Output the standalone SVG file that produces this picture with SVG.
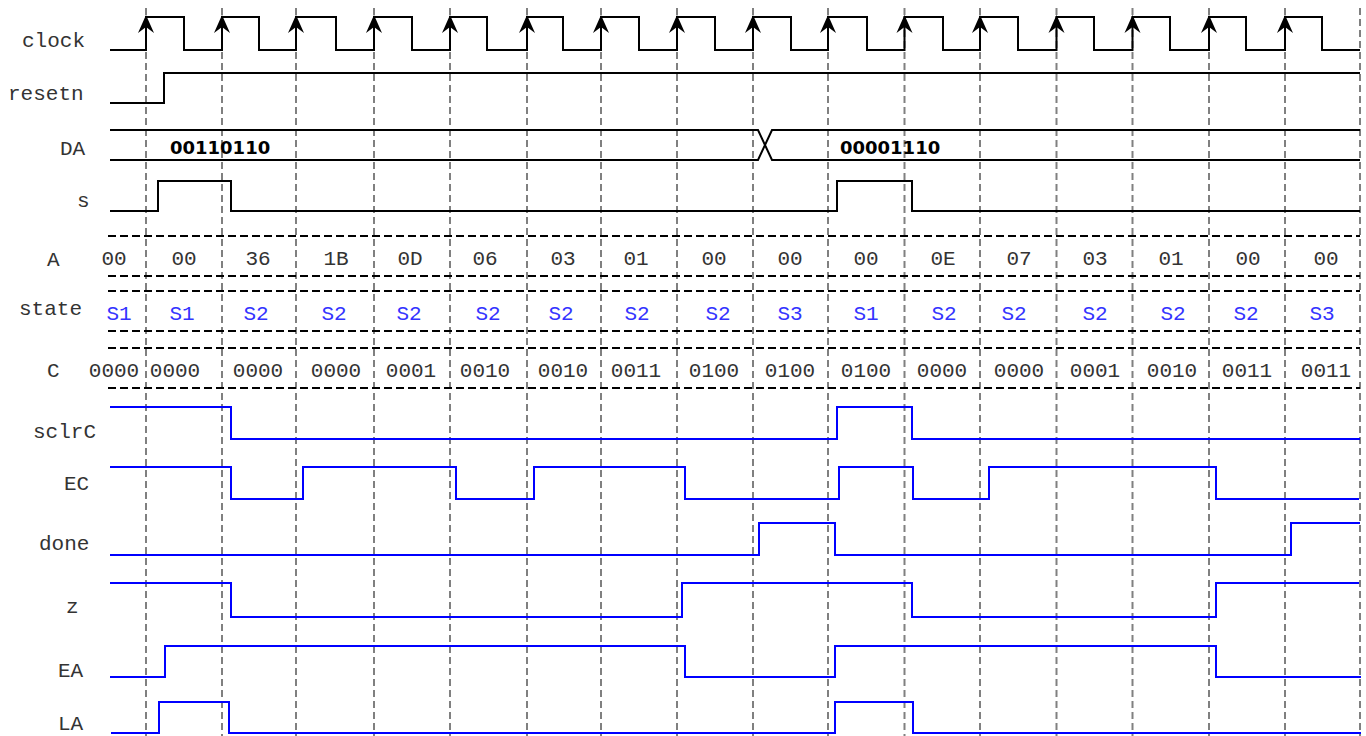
<svg xmlns="http://www.w3.org/2000/svg" width="1366" height="736" viewBox="0 0 1366 736">
<style>
.grid{stroke:#808080;stroke-width:2;stroke-dasharray:7 4;fill:none}
.bus{stroke:#000;stroke-width:2;stroke-dasharray:8 4;fill:none}
.sig{stroke:#000;stroke-width:2;fill:none}
.blue{stroke:#0000ff;stroke-width:2;fill:none}
.lbl{font-family:"Liberation Mono","Courier New",monospace;font-size:21px;fill:#333}
.val{font-family:"Liberation Mono","Courier New",monospace;font-size:21px;fill:#333;text-anchor:middle}
.st{font-family:"Liberation Mono","Courier New",monospace;font-size:21px;fill:#3333ff;text-anchor:middle}
.da{font-family:"DejaVu Sans","Verdana",sans-serif;font-size:18px;font-weight:bold;fill:#000}
</style>
<rect width="1366" height="736" fill="#fff"/>
<g id="guides">
<path class="grid" d="M146,8V736M222,8V736M296,8V736M374,8V736M450,8V736M527,8V736M601,8V736M677,8V736M753,8V736M828,8V736M904.5,8V736M980,8V736M1056.5,8V736M1132.5,8V736M1209,8V736M1285,8V736M1360,8V736"/>
</g>
<g id="clock">
<text class="lbl" x="22" y="47">clock</text>
<path class="sig" d="M110,50H146V17H184V50H222V17H259V50H296V17H336V50H374V17H412V50H450V17H487V50H527V17H563V50H601V17H639V50H677V17H715V50H753V17H791V50H828V17H867V50H904.5V17H943V50H980V17H1018V50H1056.5V17H1094V50H1132.5V17H1170V50H1209V17H1246V50H1285V17H1322V50H1360"/>
<g fill="#000">
<path d="M146,15l-8,18l8,-6l8,6z"/><path d="M222,15l-8,18l8,-6l8,6z"/><path d="M296,15l-8,18l8,-6l8,6z"/><path d="M374,15l-8,18l8,-6l8,6z"/>
<path d="M450,15l-8,18l8,-6l8,6z"/><path d="M527,15l-8,18l8,-6l8,6z"/><path d="M601,15l-8,18l8,-6l8,6z"/><path d="M677,15l-8,18l8,-6l8,6z"/>
<path d="M753,15l-8,18l8,-6l8,6z"/><path d="M828,15l-8,18l8,-6l8,6z"/><path d="M904.5,15l-8,18l8,-6l8,6z"/><path d="M980,15l-8,18l8,-6l8,6z"/>
<path d="M1056.5,15l-8,18l8,-6l8,6z"/><path d="M1132.5,15l-8,18l8,-6l8,6z"/><path d="M1209,15l-8,18l8,-6l8,6z"/><path d="M1285,15l-8,18l8,-6l8,6z"/>
</g>
</g>
<g id="resetn">
<text class="lbl" x="8" y="100">resetn</text>
<path class="sig" d="M110,103H164V73H1360"/>
</g>
<g id="DA">
<text class="lbl" x="60" y="155">DA</text>
<path class="sig" d="M110,130H758L772,160H1360M110,160H758L772,130H1360"/>
<text class="da" x="170" y="154">00110110</text>
<text class="da" x="840" y="154">00001110</text>
</g>
<g id="s">
<text class="lbl" x="77" y="207">s</text>
<path class="sig" d="M110,211H158V181H231V211H837V181H912V211H1360"/>
</g>
<g id="A">
<text class="lbl" x="47" y="266">A</text>
<path class="bus" d="M108,236H1360M108,276H1360"/>
<text class="val" x="114" y="265">00</text><text class="val" x="184" y="265">00</text><text class="val" x="258" y="265">36</text><text class="val" x="336" y="265">1B</text>
<text class="val" x="410" y="265">0D</text><text class="val" x="485" y="265">06</text><text class="val" x="563" y="265">03</text><text class="val" x="636" y="265">01</text>
<text class="val" x="714" y="265">00</text><text class="val" x="790" y="265">00</text><text class="val" x="866" y="265">00</text><text class="val" x="943" y="265">0E</text>
<text class="val" x="1019" y="265">07</text><text class="val" x="1095" y="265">03</text><text class="val" x="1171" y="265">01</text><text class="val" x="1248" y="265">00</text>
<text class="val" x="1326" y="265">00</text>
</g>
<g id="state">
<text class="lbl" x="19" y="315">state</text>
<path class="bus" d="M108,291H1360M108,331H1360"/>
<text class="st" x="119" y="320">S1</text><text class="st" x="182" y="320">S1</text><text class="st" x="256" y="320">S2</text><text class="st" x="334" y="320">S2</text>
<text class="st" x="409" y="320">S2</text><text class="st" x="488" y="320">S2</text><text class="st" x="561" y="320">S2</text><text class="st" x="637" y="320">S2</text>
<text class="st" x="718" y="320">S2</text><text class="st" x="790" y="320">S3</text><text class="st" x="866" y="320">S1</text><text class="st" x="944" y="320">S2</text>
<text class="st" x="1014" y="320">S2</text><text class="st" x="1095" y="320">S2</text><text class="st" x="1173" y="320">S2</text><text class="st" x="1246" y="320">S2</text>
<text class="st" x="1322" y="320">S3</text>
</g>
<g id="C">
<text class="lbl" x="47" y="377">C</text>
<path class="bus" d="M108,348H1360M108,388H1360"/>
<text class="val" x="114" y="377">0000</text><text class="val" x="175" y="377">0000</text><text class="val" x="258" y="377">0000</text><text class="val" x="336" y="377">0000</text>
<text class="val" x="411" y="377">0001</text><text class="val" x="485" y="377">0010</text><text class="val" x="563" y="377">0010</text><text class="val" x="636" y="377">0011</text>
<text class="val" x="714" y="377">0100</text><text class="val" x="790" y="377">0100</text><text class="val" x="866" y="377">0100</text><text class="val" x="942" y="377">0000</text>
<text class="val" x="1019" y="377">0000</text><text class="val" x="1095" y="377">0001</text><text class="val" x="1172" y="377">0010</text><text class="val" x="1247" y="377">0011</text>
<text class="val" x="1326" y="377">0011</text>
</g>
<g id="sclrC">
<text class="lbl" x="33" y="438">sclrC</text>
<path class="blue" d="M110,407H231V439H837V407H912V439H1360"/>
</g>
<g id="EC">
<text class="lbl" x="64" y="490">EC</text>
<path class="blue" d="M110,467H231V499H303V467H456V499H534V467H685V499H839V467H913V499H989V467H1216V499H1359"/>
</g>
<g id="done">
<text class="lbl" x="39" y="550">done</text>
<path class="blue" d="M110,555H759V523H835V555H1291V523H1360"/>
</g>
<g id="z">
<text class="lbl" x="66" y="613">z</text>
<path class="blue" d="M110,583H231V617H682V583H912V617H1216V583H1359"/>
</g>
<g id="EA">
<text class="lbl" x="58" y="677">EA</text>
<path class="blue" d="M110,677H165V646H685V677H835V646H1216V677H1361"/>
</g>
<g id="LA">
<text class="lbl" x="58" y="730">LA</text>
<path class="blue" d="M111,733H159V702H229V733H835V702H913V733H1361"/>
</g>
</svg>
